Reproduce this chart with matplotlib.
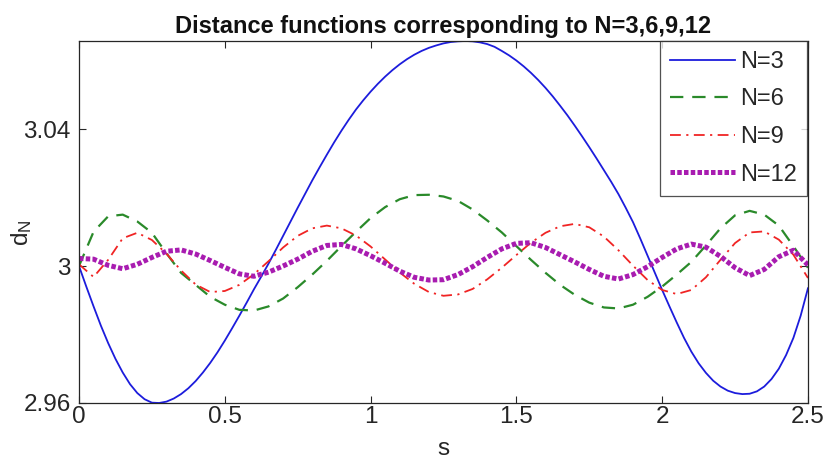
import numpy as np
import matplotlib
matplotlib.use("Agg")
import matplotlib.pyplot as plt

plt.rcParams['font.family'] = ['Liberation Sans', 'DejaVu Sans']
plt.rcParams['mathtext.fontset'] = 'custom'
plt.rcParams['mathtext.rm'] = 'Liberation Sans'
plt.rcParams['mathtext.it'] = 'Liberation Sans'

# sample grids of the arc-length parameter s
s_fine = np.linspace(0.0, 2.5, 101)   # step 0.025 (N=3)
s = np.linspace(0.0, 2.5, 51)         # step 0.05  (N=6, 9, 12)

d3 = [3.0000, 2.9940, 2.9882, 2.9826, 2.9775, 2.9729, 2.9689, 2.9655, 2.9629, 2.9611,
      2.9601, 2.9600, 2.9604, 2.9613, 2.9626, 2.9643, 2.9664, 2.9689, 2.9717, 2.9748,
      2.9782, 2.9818, 2.9855, 2.9893, 2.9932, 2.9969, 3.0007, 3.0047, 3.0088, 3.0129,
      3.0170, 3.0210, 3.0250, 3.0288, 3.0325, 3.0361, 3.0395, 3.0427, 3.0457, 3.0484,
      3.0509, 3.0532, 3.0553, 3.0572, 3.0589, 3.0604, 3.0617, 3.0628, 3.0637, 3.0644,
      3.0650, 3.0654, 3.0656, 3.0657, 3.0656, 3.0653, 3.0648, 3.0640, 3.0628, 3.0615,
      3.0600, 3.0583, 3.0564, 3.0543, 3.0520, 3.0495, 3.0468, 3.0440, 3.0410, 3.0379,
      3.0347, 3.0314, 3.0280, 3.0246, 3.0210, 3.0170, 3.0128, 3.0080, 3.0030, 2.9980,
      2.9930, 2.9882, 2.9835, 2.9790, 2.9750, 2.9716, 2.9688, 2.9665, 2.9648, 2.9636,
      2.9629, 2.9626, 2.9627, 2.9634, 2.9648, 2.9670, 2.9700, 2.9740, 2.9790, 2.9855,
      2.9935]

d6 = [3.0000, 3.0100, 3.0145, 3.0150, 3.0130, 3.0097, 3.0037, 2.9980, 2.9945, 2.9910,
      2.9887, 2.9872, 2.9870, 2.9882, 2.9905, 2.9938, 2.9975, 3.0015, 3.0058, 3.0100,
      3.0140, 3.0172, 3.0195, 3.0207, 3.0208, 3.0203, 3.0190, 3.0165, 3.0133, 3.0098,
      3.0058, 3.0018, 2.9980, 2.9945, 2.9916, 2.9893, 2.9879, 2.9876, 2.9887, 2.9910,
      2.9940, 2.9975, 3.0012, 3.0060, 3.0110, 3.0148, 3.0161, 3.0150, 3.0118, 3.0058, 2.9995]

d9 = [3.0005, 2.9968, 3.0018, 3.0081, 3.0097, 3.0076, 3.0036, 2.9987, 2.9946, 2.9924,
      2.9927, 2.9945, 2.9976, 3.0014, 3.0054, 3.0088, 3.0110, 3.0118, 3.0110, 3.0089,
      3.0057, 3.0019, 2.9981, 2.9948, 2.9924, 2.9913, 2.9917, 2.9933, 2.9961, 2.9995,
      3.0032, 3.0068, 3.0097, 3.0116, 3.0123, 3.0113, 3.0086, 3.0046, 3.0001, 2.9959,
      2.9930, 2.9918, 2.9930, 2.9967, 3.0018, 3.0067, 3.0098, 3.0101, 3.0077, 3.0033, 2.9965]

d12 = [3.0022, 3.0020, 3.0002, 2.9992, 3.0005, 3.0025, 3.0043, 3.0047, 3.0035, 3.0016,
       2.9996, 2.9977, 2.9970, 2.9982, 3.0000, 3.0020, 3.0043, 3.0060, 3.0063, 3.0050,
       3.0030, 3.0008, 2.9985, 2.9967, 2.9959, 2.9960, 2.9975, 2.9998, 3.0025, 3.0050,
       3.0066, 3.0068, 3.0054, 3.0033, 3.0012, 2.9990, 2.9970, 2.9962, 2.9975, 2.9998,
       3.0025, 3.0050, 3.0064, 3.0055, 3.0028, 2.9995, 2.9972, 2.9990, 3.0027, 3.0046, 3.0003]

labels = ['N=3', 'N=6', 'N=9', 'N=12']
x_ticks = [0, 0.5, 1, 1.5, 2, 2.5]
x_ticklabels = ['0', '0.5', '1', '1.5', '2', '2.5']
y_ticks = [2.96, 3.0, 3.04]
y_ticklabels = ['2.96', '3', '3.04']

fig = plt.figure(figsize=(8.28, 4.58), dpi=100)
ax = fig.add_axes([0.0954, 0.1201, 0.8804, 0.7904])

ax.plot(s_fine, d3, color='#1c1cdc', lw=1.3, ls='-', label=labels[0])
ax.plot(s, d6, color='#2a8a2a', lw=1.6, ls=(0, (6, 4)), label=labels[1])
ax.plot(s, d9, color='#f02424', lw=1.3, ls=(0, (6, 3, 1.2, 3)), label=labels[2])
ax.plot(s, d12, color='#a81cb0', lw=3.6, ls=(0, (0.9, 0.45)), label=labels[3])

ax.set_xlim(0, 2.5)
ax.set_ylim(min(min(d3), min(d6), min(d9), min(d12)),
            max(max(d3), max(d6), max(d9), max(d12)))
ax.set_xticks(x_ticks)
ax.set_xticklabels(x_ticklabels)
ax.set_yticks(y_ticks)
ax.set_yticklabels(y_ticklabels)

gray = '#262626'
ax.tick_params(direction='in', length=5, width=0.8, top=True, right=True,
               labelsize=17.5, colors=gray)
ax.tick_params(axis='x', pad=2)
ax.tick_params(axis='y', pad=6)
for sp in ax.spines.values():
    sp.set_color(gray)
    sp.set_linewidth(0.9)

ax.set_title('Distance functions corresponding to N=3,6,9,12',
             fontsize=17, fontweight='bold', color='#111111', pad=6)
ax.set_xlabel('s', fontsize=17.5, color=gray)
ax.xaxis.set_label_coords(0.5, -0.098)
ax.set_ylabel(r'd$_{\mathrm{N}}$', fontsize=17.5, color=gray)
ax.yaxis.set_label_coords(-0.062, 0.47)

leg = ax.legend(loc='upper right', bbox_to_anchor=(0.998, 1.0), borderaxespad=0.0,
                fontsize=17, frameon=True, fancybox=False, handlelength=2.75,
                handletextpad=0.22, labelspacing=0.66, borderpad=0.42)
leg.get_frame().set_edgecolor(gray)
leg.get_frame().set_linewidth(0.9)
for t in leg.get_texts():
    t.set_color(gray)

fig.savefig('out.png', dpi=100)
